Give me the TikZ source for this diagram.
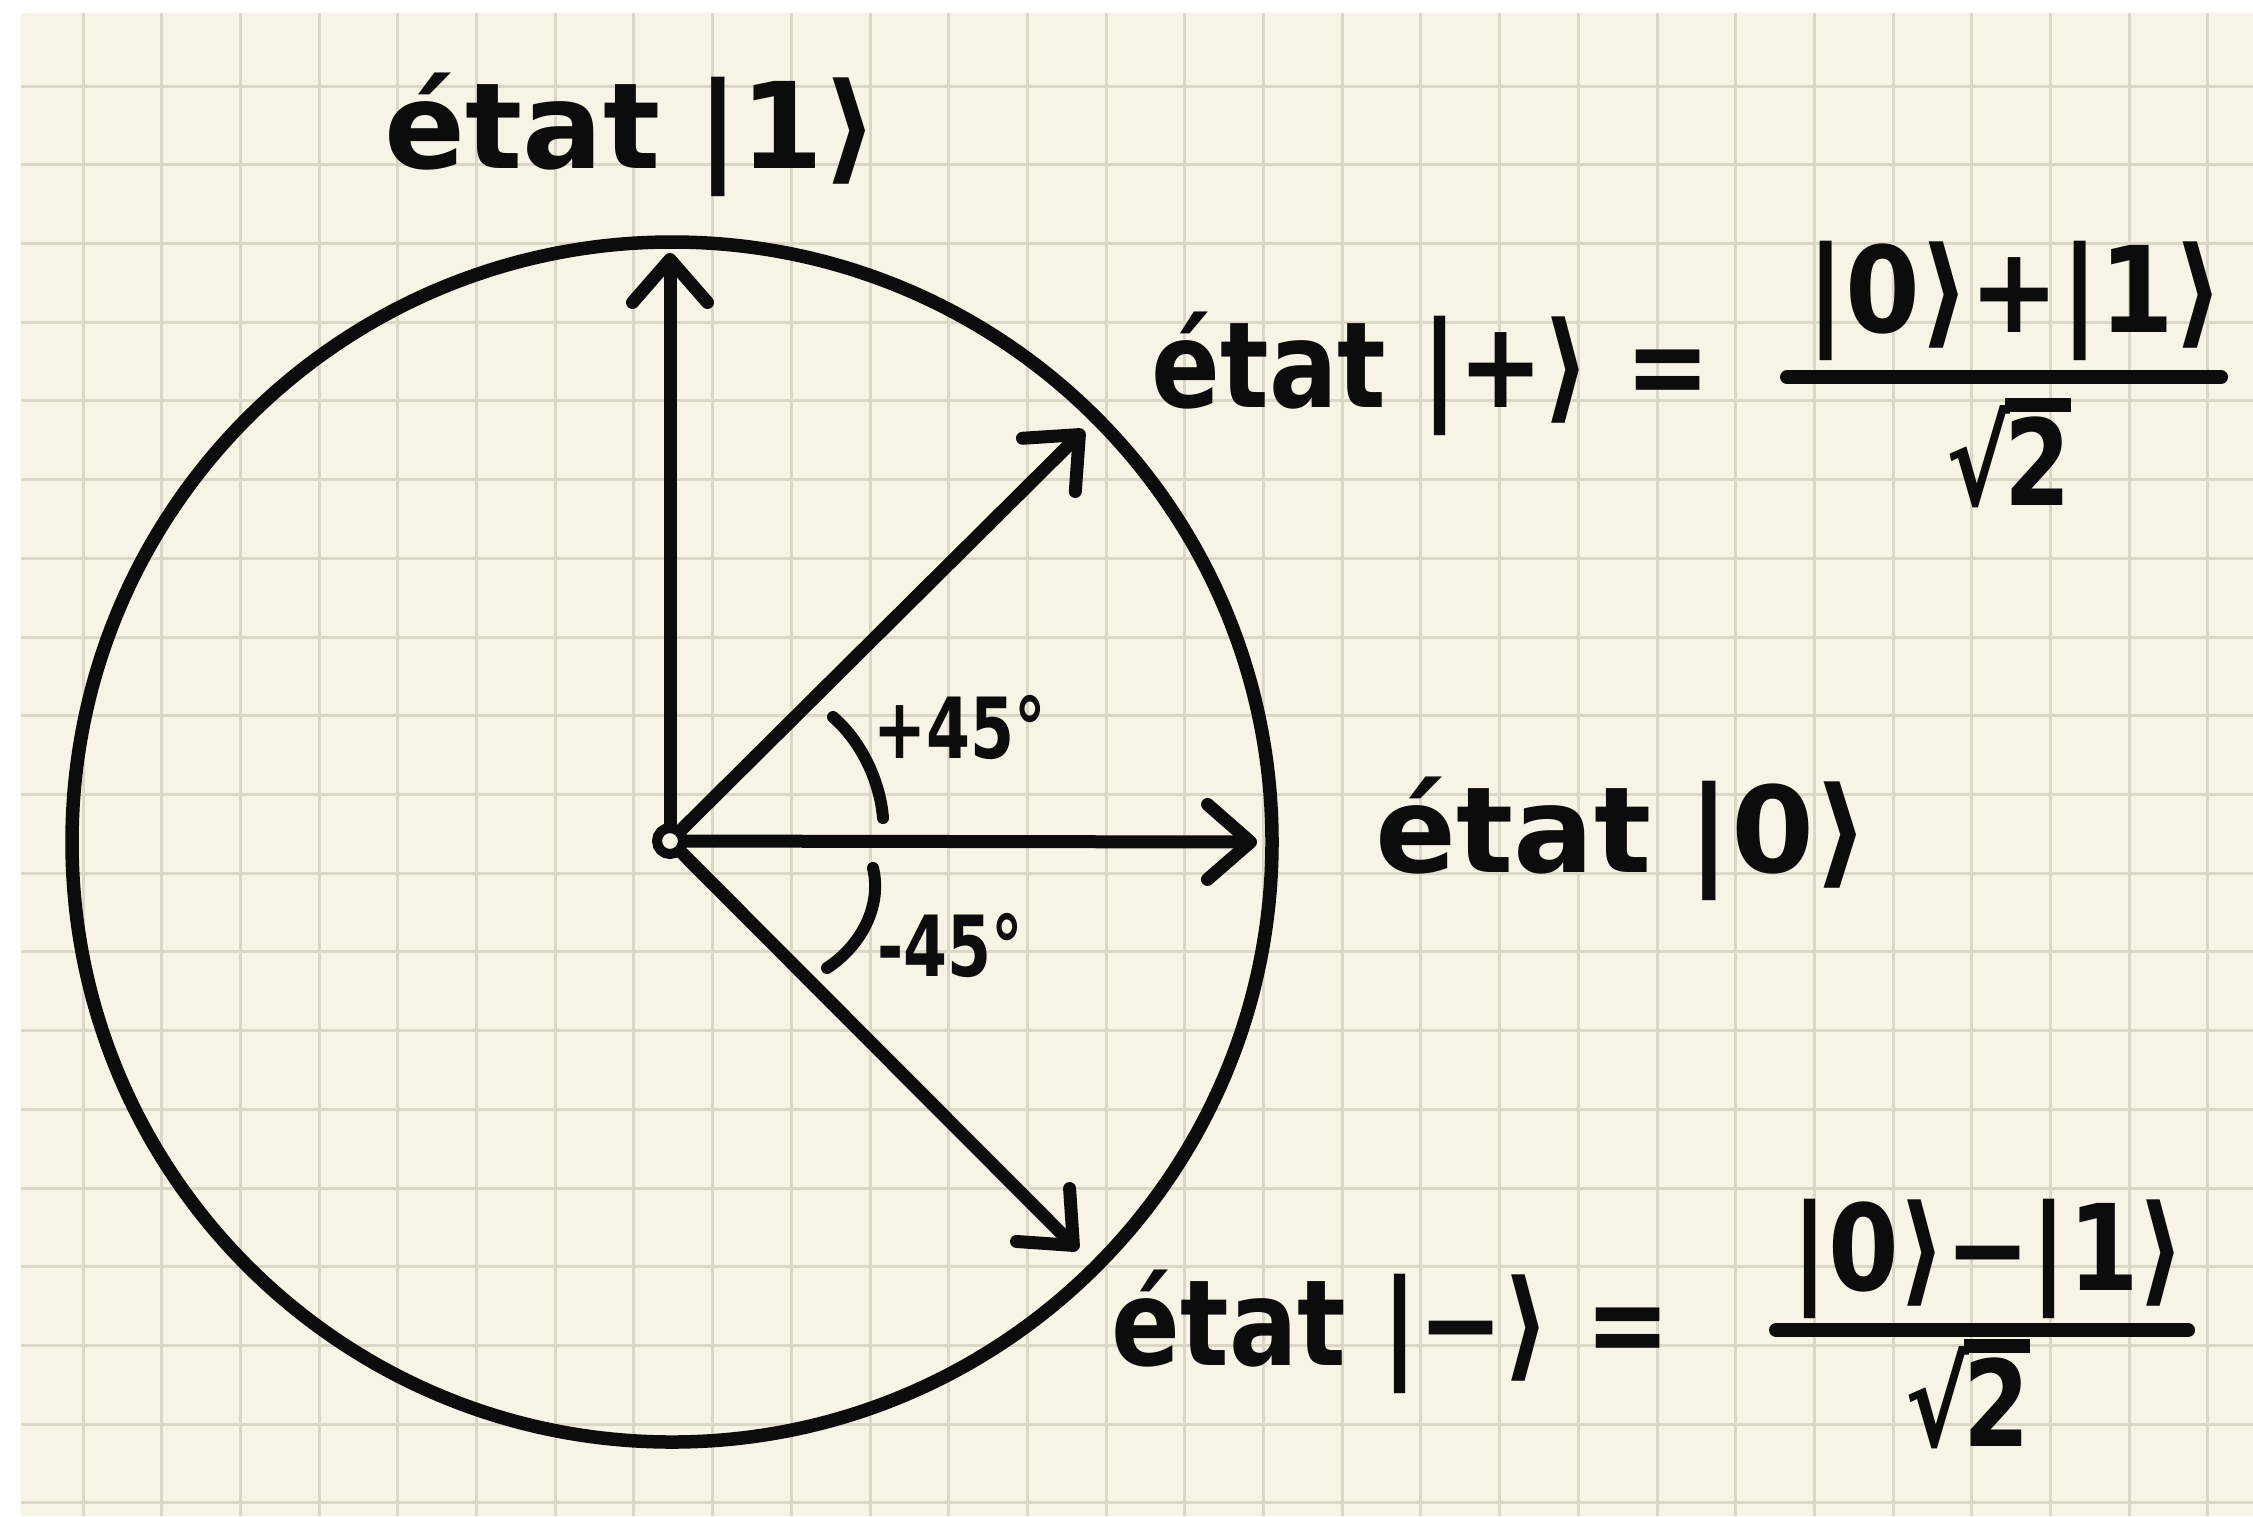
\documentclass[tikz,border=0pt]{standalone}
\usepackage{fontspec}
\newfontfamily\hand{DejaVu Sans}
\usetikzlibrary{arrows.meta}
\definecolor{paper}{RGB}{246,244,229}
\definecolor{gridc}{RGB}{219,215,199}
\definecolor{ink}{RGB}{12,12,12}
\newcommand{\sqrttwo}{√\kern-0.06em\vbox{\hrule height 0.11em\kern0.04em\hbox{2}}}
\tikzset{
  gridline/.style={gridc, line width=0.3mm},
  ring/.style={ink, line width=1.35mm},
  vec/.style={ink, line width=1.3mm, line cap=round, -{Straight Barb[length=4.3mm,width=7.5mm,round]}},
  anglearc/.style={ink, line width=1.2mm, line cap=round},
  fracbar/.style={ink, line width=1.4mm, line cap=round},
  origin/.style={circle, draw=ink, fill=paper, line width=1mm, minimum size=2.6mm, inner sep=0pt},
  lab/.style={font=\hand\bfseries\fontsize{34}{40}\selectfont, anchor=base west, inner sep=0pt, text=ink},
  small/.style={font=\hand\bfseries\fontsize{24}{28}\selectfont, anchor=base west, inner sep=0pt, text=ink}
}
\begin{document}
\begin{tikzpicture}[x=0.1mm,y=-0.1mm]
\fill[white] (0,0) rectangle (2253,1516);
\useasboundingbox (0,0) rectangle (2253,1516);
\fill[paper] (21,13) rectangle (2253,1516);
\foreach \k in {0,...,27} \draw[gridline] ({83+78.7*\k},13) -- ({83+78.7*\k},1516);
\foreach \k in {0,...,18} \draw[gridline] (21,{86+78.72*\k}) -- (2253,{86+78.72*\k});

% circle
\coordinate (C) at (672,842);
\draw[ring] (C) circle[radius=600];

% origin and vector tips
\node[origin] (O) at (670,841) {};
\coordinate (t1) at (670,253);
\coordinate (t0) at (1257,842);
\coordinate (tp) at (1084,430);
\coordinate (tm) at (1078,1250);
\draw[vec] (O) -- (t1);
\draw[vec] (O) -- (t0);
\draw[vec] (O) -- (tp);
\draw[vec] (O) -- (tm);

% angle arcs
\draw[anglearc] (833,717) .. controls (860,740) and (880,780) .. (883,818);
\draw[anglearc] (873,868) .. controls (882,905) and (862,945) .. (827,968);
\node[small, xscale=0.75] (ap) at (873,758) {+45°};
\node[small, xscale=0.75] (am) at (877,976) {-45°};

% labels
\node[lab] (l1) at (384,168) {état\hspace{0.3em}|1⟩};
\node[lab] (l0) at (1375,872) {état\hspace{0.3em}|0⟩};
\node[lab, xscale=0.85] (lp) at (1151,407) {état |+⟩ =};
\node[lab, xscale=0.9] (np) at (1806,332) {|0⟩+|1⟩};
\draw[fracbar] (1787,377) -- (2221,377);
\node[lab, xscale=0.8] (dp) at (1946,505) {\sqrttwo};
\node[lab, xscale=0.85] (lm) at (1111,1365) {état |−⟩ =};
\node[lab, xscale=0.85] (nm) at (1791,1290) {|0⟩−|1⟩};
\draw[fracbar] (1776,1330) -- (2188,1330);
\node[lab, xscale=0.8] (dm) at (1905,1446) {\sqrttwo};
\end{tikzpicture}
\end{document}
